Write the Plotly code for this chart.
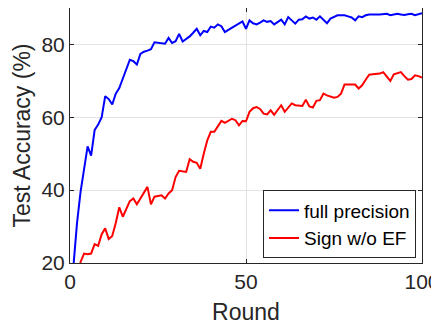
import plotly.graph_objects as go

rounds = list(range(1, 101))

full_precision = [
    19.5, 31.0, 39.5, 45.5, 52.0, 49.5, 56.5, 58.0, 60.0, 65.8,
    65.0, 63.5, 66.5, 68.0, 70.5, 73.0, 75.8, 75.4, 74.5, 77.4,
    78.0, 78.3, 78.7, 80.6, 80.4, 80.4, 80.2, 81.8, 80.4, 80.9,
    82.9, 80.8, 81.5, 82.2, 83.2, 84.3, 82.5, 83.7, 83.4, 84.9,
    84.6, 85.5, 85.0, 83.4, 84.0, 84.6, 85.3, 85.8, 86.3, 84.3,
    86.6, 85.8, 85.5, 86.0, 86.6, 86.2, 86.4, 85.5, 86.2, 86.8,
    85.5, 87.5, 86.6, 85.7, 86.8, 86.9, 87.7, 87.1, 87.4, 86.8,
    87.7, 86.8, 85.8, 87.1, 87.6, 88.0, 88.0, 88.0, 87.7, 87.4,
    86.6, 87.7, 87.5, 88.0, 88.2, 88.1, 88.2, 88.2, 88.3, 88.4,
    88.0, 88.3, 88.4, 88.2, 88.1, 88.3, 88.4, 88.0, 88.4, 88.6,
]

sign_wo_ef = [
    8.0, 12.0, 20.3, 22.6, 22.4, 22.6, 25.2, 24.7, 27.9, 29.5,
    26.6, 27.4, 31.0, 35.3, 32.7, 35.0, 37.0, 37.7, 36.1, 37.7,
    39.3, 40.9, 36.1, 38.2, 38.4, 38.6, 37.7, 39.1, 40.0, 43.6,
    45.3, 45.2, 45.0, 48.5, 47.8, 47.5, 45.9, 50.0, 53.7, 56.0,
    56.0, 57.5, 59.0, 58.5, 59.0, 59.6, 59.2, 57.8, 59.0, 58.9,
    61.5, 62.5, 62.8, 62.3, 61.0, 60.8, 61.9, 60.7, 62.0, 63.3,
    61.5, 62.7, 63.8, 63.3, 63.2, 63.1, 64.8, 63.0, 62.7, 64.5,
    64.7, 66.5, 66.0, 65.6, 65.4, 65.6, 66.5, 69.0, 69.0, 69.0,
    69.0, 67.9, 68.8, 70.3, 71.7, 71.8, 71.8, 72.0, 72.4, 71.2,
    70.0, 71.8, 72.2, 72.4, 71.3, 70.3, 70.5, 71.5, 71.3, 70.9,
]

x_ticks = [0, 50, 100]
y_ticks = [20, 40, 60, 80]

FONT = "Liberation Sans, Arial, Helvetica, sans-serif"
TXT = "#262626"

fig = go.Figure()
fig.add_trace(go.Scatter(x=rounds, y=full_precision, mode="lines",
                         name="full precision",
                         line=dict(color="#0000ff", width=2)))
fig.add_trace(go.Scatter(x=rounds, y=sign_wo_ef, mode="lines",
                         name="Sign w/o EF",
                         line=dict(color="#ff0000", width=2)))

axis_common = dict(
    showline=True, linecolor=TXT, linewidth=1, mirror="ticks",
    ticks="inside", ticklen=4, tickcolor=TXT,
    showgrid=True, gridcolor="#e3e3e3", gridwidth=1,
    zeroline=False, automargin=False, ticklabeloverflow="allow",
    tickfont=dict(family=FONT, size=21, color=TXT),
)

fig.update_xaxes(range=[0, 100], tickvals=x_ticks,
                 title=dict(text="Round", font=dict(family=FONT, size=23, color=TXT), standoff=11),
                 **axis_common)
fig.update_yaxes(range=[20, 90], tickvals=y_ticks,
                 title=dict(text="Test Accuracy (%)", font=dict(family=FONT, size=23, color=TXT), standoff=4),
                 **axis_common)

# page body has an 8px margin, so the figure is sized to fill the rest of the window
fig.update_layout(
    width=431, height=321,
    margin=dict(l=62, r=17, t=0, b=66, autoexpand=False),
    paper_bgcolor="white", plot_bgcolor="white",
    font=dict(family=FONT, color=TXT),
    legend=dict(
        x=0.983, y=0.018, xanchor="right", yanchor="bottom",
        bgcolor="white", bordercolor=TXT, borderwidth=1,
        font=dict(family=FONT, size=19, color="black"),
        tracegroupgap=0, itemwidth=30,
    ),
    showlegend=True,
)

fig.write_html("out.html")
